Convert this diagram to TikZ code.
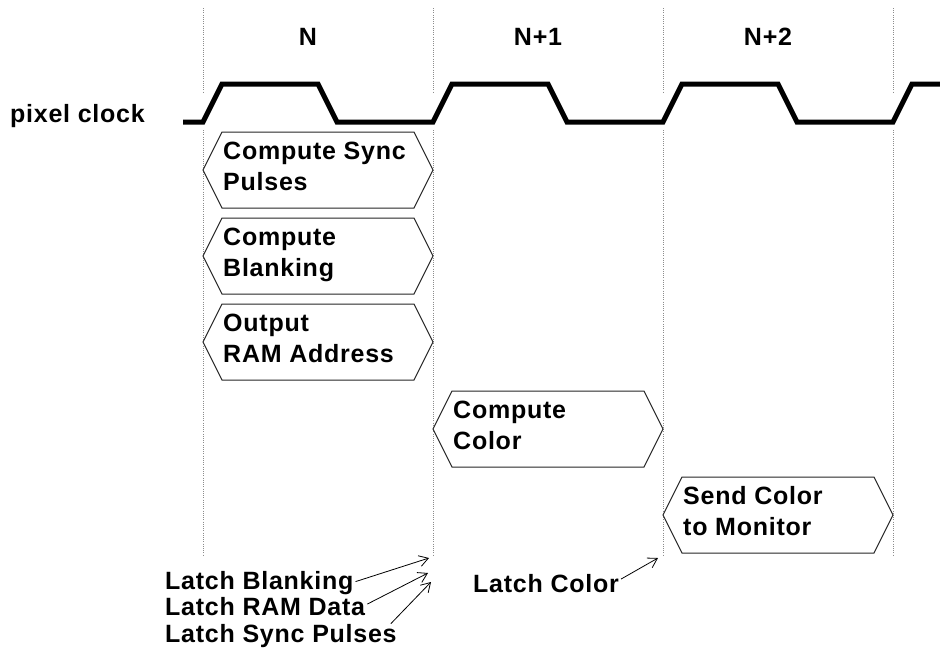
\documentclass[tikz,border=0pt]{standalone}
\usepackage{fontspec}
\newfontfamily\lblfont{Liberation Sans Bold}[LetterSpace=3]
\usetikzlibrary{arrows.meta}
\begin{document}
\begin{tikzpicture}[x=1pt,y=-1pt,
  lbl/.style={font=\lblfont\fontsize{25}{31}\selectfont, inner sep=0pt, align=left},
  guide/.style={draw=black!45, line width=0.7pt, dash pattern=on 1pt off 1.2pt},
  clock/.style={line width=5pt, line join=miter},
  hexbox/.style={draw=black!85, line width=1pt, fill=white},
  latch/.style={line width=0.8pt, -{Straight Barb[length=9pt,width=11pt]}}]
\useasboundingbox (0,0) rectangle (940,654);
% guides
\foreach \gx in {203,433,663,893}{
  \draw[guide] (\gx,8) -- (\gx,93);
  \draw[guide] (\gx,130) -- (\gx,555);
}
% cycle labels
\node[lbl, anchor=base] (n0) at (308,45) {N};
\node[lbl, anchor=base] (n1) at (538,45) {N+1};
\node[lbl, anchor=base] (n2) at (768,45) {N+2};
% clock
\node[lbl, anchor=base west] (pc) at (10,122) {pixel clock};
\draw[clock] (183,122) -- (203,122) -- (222,84) -- (318,84) -- (337,122)
  -- (433,122) -- (452,84) -- (548,84) -- (567,122)
  -- (663,122) -- (682,84) -- (778,84) -- (797,122)
  -- (893,122) -- (912,84) -- (940,84);
% boxes
\newcommand{\hexshape}[3]{% left x, top y, right x
  \draw[hexbox] (#1,#2+38) -- (#1+19,#2) -- (#3-19,#2) -- (#3,#2+38) -- (#3-19,#2+76) -- (#1+19,#2+76) -- cycle;}
\hexshape{203}{132}{433}
\node[lbl, anchor=base west] (b1) at (223,190) {Compute Sync\\Pulses};
\hexshape{203}{218}{433}
\node[lbl, anchor=base west] (b2) at (223,276) {Compute\\Blanking};
\hexshape{203}{304}{433}
\node[lbl, anchor=base west] (b3) at (223,362) {Output\\RAM Address};
\hexshape{433}{391}{663}
\node[lbl, anchor=base west] (b4) at (453,449) {Compute\\Color};
\hexshape{663}{477}{893}
\node[lbl, anchor=base west] (b5) at (683,535) {Send Color\\to Monitor};
% latch labels
\node[lbl, anchor=base west] (l1) at (165,589) {Latch Blanking};
\node[lbl, anchor=base west] (l2) at (165,615) {Latch RAM Data};
\node[lbl, anchor=base west] (l3) at (165,642) {Latch Sync Pulses};
\node[lbl, anchor=base west] (l4) at (473,592) {Latch Color};
\coordinate (t1) at (429,558);
\coordinate (t2) at (428,573);
\coordinate (t3) at (431,582);
\coordinate (t4) at (658,558);
\draw[latch] (l1.east) ++(2,-1) -- (t1);
\draw[latch] (l2.east) ++(2,-2) -- (t2);
\draw[latch] (l3.north east) ++(-6,0) -- (t3);
\draw[latch] (l4.east) ++(2,-4) -- (t4);
\end{tikzpicture}
\end{document}
